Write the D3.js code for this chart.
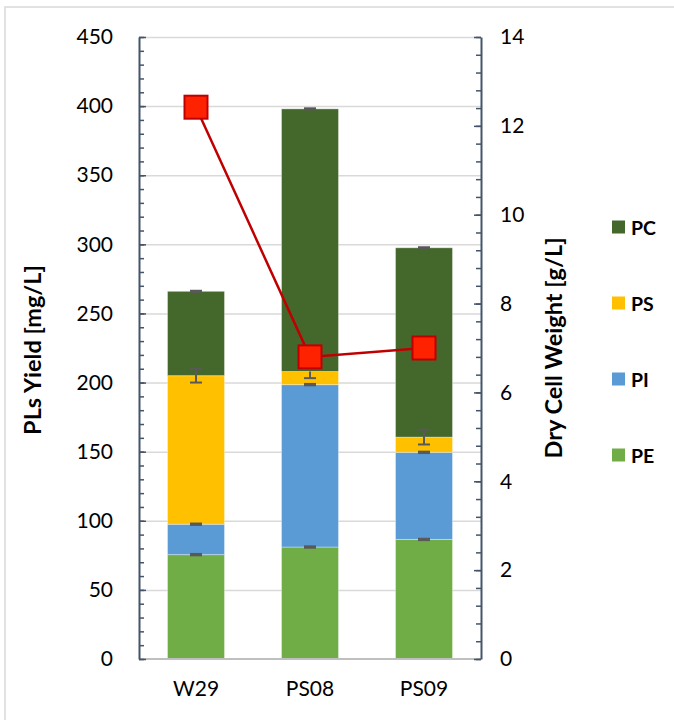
<!DOCTYPE html>
<html><head><meta charset="utf-8">
<script src="https://cdn.jsdelivr.net/npm/d3@7"></script>
<style>
html,body{margin:0;padding:0;background:#fff;}
svg{display:block;font-family:Lato,"Open Sans",sans-serif;}
</style></head>
<body>
<svg id="chart" width="674" height="720"></svg>
<script>
// ---- data ----
const categories = ["W29", "PS08", "PS09"];
const seriesNames = ["PE", "PI", "PS", "PC"];
const PE = [75.5, 81, 86.5];
const PI = [22, 117.5, 63];
const PS = [107.5, 9.5, 11];
const PC = [61, 190, 137];
// error bars (per series, per category)
const errPlusPE = [0.5, 0.5, 0.5],  errMinusPE = [0.5, 0.5, 0.5];
const errPlusPI = [0.5, 0.5, 0.5],  errMinusPI = [0.5, 0.5, 0.5];
const errPlusPS = [5, 0, 5.3],      errMinusPS = [5, 4.8, 5.3];
const errPlusPC = [0.4, 0.4, 0.4],  errMinusPC = [0.4, 0.4, 0.4];
const dryCellWeight = [12.42, 6.8, 7.0];
const leftTicks = [0, 50, 100, 150, 200, 250, 300, 350, 400, 450];
const rightTicks = [0, 2, 4, 6, 8, 10, 12, 14];

const colors = {PE: "#70AD47", PI: "#5B9BD5", PS: "#FFC000", PC: "#44682C"};
const seriesValues = {PE, PI, PS, PC};
const errPlus = {PE: errPlusPE, PI: errPlusPI, PS: errPlusPS, PC: errPlusPC};
const errMinus = {PE: errMinusPE, PI: errMinusPI, PS: errMinusPS, PC: errMinusPC};

// ---- layout ----
const svg = d3.select("#chart");
const X0 = 139, X1 = 481, Y0 = 659, Y1 = 37;
const axisColor = "#44546A";

// outer border
svg.append("rect").attr("x", 5).attr("y", 7).attr("width", 700).attr("height", 740)
  .attr("fill", "none").attr("stroke", "#D9D9D9").attr("stroke-width", 1.5);

const x = d3.scaleBand().domain(categories).range([X0, X1]).paddingInner(0.5).paddingOuter(0.25);
const y = d3.scaleLinear().domain([0, 450]).range([Y0, Y1]);
const y2 = d3.scaleLinear().domain([0, 14]).range([Y0, Y1]);

// gridlines
svg.append("g").attr("transform", `translate(${X0},0)`)
  .call(d3.axisLeft(y).tickValues(leftTicks.slice(1)).tickSize(-(X1 - X0)).tickFormat(""))
  .call(g => g.select(".domain").remove())
  .call(g => g.selectAll("line").attr("stroke", "#D9D9D9").attr("stroke-width", 1.5));

// stacked data
const table = categories.map((c, i) => {
  const o = {cat: c};
  seriesNames.forEach(s => o[s] = seriesValues[s][i]);
  return o;
});
const stacked = d3.stack().keys(seriesNames)(table);

svg.append("g").selectAll("g").data(stacked).join("g")
  .attr("fill", d => colors[d.key])
  .selectAll("rect").data(d => d).join("rect")
  .attr("x", d => x(d.data.cat))
  .attr("width", x.bandwidth())
  .attr("y", d => y(d[1]))
  .attr("height", d => y(d[0]) - y(d[1]))
  .attr("stroke", "rgba(255,255,255,0.35)").attr("stroke-width", 1);

// error bars
const eb = svg.append("g").attr("stroke", "#595959").attr("stroke-width", 2);
stacked.forEach(layer => {
  const s = layer.key;
  layer.forEach((d, i) => {
    const cx = x(d.data.cat) + x.bandwidth() / 2;
    const top = d[1];
    const hi = top + errPlus[s][i], lo = top - errMinus[s][i];
    eb.append("line").attr("x1", cx).attr("x2", cx).attr("y1", y(hi)).attr("y2", y(lo));
    if (errPlus[s][i] > 0) eb.append("line").attr("x1", cx - 6).attr("x2", cx + 6).attr("y1", y(hi)).attr("y2", y(hi));
    if (errMinus[s][i] > 0) eb.append("line").attr("x1", cx - 6).attr("x2", cx + 6).attr("y1", y(lo)).attr("y2", y(lo));
  });
});

// bottom axis line
svg.append("line").attr("x1", X0).attr("x2", X1).attr("y1", Y0).attr("y2", Y0)
  .attr("stroke", "#BFBFBF").attr("stroke-width", 2);

// left axis: minor ticks
svg.append("g").attr("transform", `translate(${X0},0)`)
  .call(d3.axisLeft(y).tickValues(d3.range(0, 451, 10)).tickSize(-5).tickFormat(""))
  .call(g => g.select(".domain").remove())
  .call(g => g.selectAll("line").attr("stroke", axisColor).attr("stroke-width", 1.5));
// left axis: major
svg.append("g").attr("transform", `translate(${X0},0)`)
  .call(d3.axisLeft(y).tickValues(leftTicks).tickSize(-7).tickPadding(26).tickSizeOuter(0))
  .call(g => g.select(".domain").attr("stroke", axisColor).attr("stroke-width", 2))
  .call(g => g.selectAll("line").attr("stroke", axisColor).attr("stroke-width", 1.5))
  .call(g => g.selectAll("text").attr("font-size", 21).attr("fill", "#000").attr("font-family", "Lato"));

// right axis: minor ticks
svg.append("g").attr("transform", `translate(${X1},0)`)
  .call(d3.axisRight(y2).tickValues(d3.range(0, 14.01, 0.4)).tickSize(-5).tickFormat(""))
  .call(g => g.select(".domain").remove())
  .call(g => g.selectAll("line").attr("stroke", axisColor).attr("stroke-width", 1.5));
// right axis: major
svg.append("g").attr("transform", `translate(${X1},0)`)
  .call(d3.axisRight(y2).tickValues(rightTicks).tickSize(-7).tickPadding(19).tickSizeOuter(0))
  .call(g => g.select(".domain").attr("stroke", axisColor).attr("stroke-width", 2))
  .call(g => g.selectAll("line").attr("stroke", axisColor).attr("stroke-width", 1.5))
  .call(g => g.selectAll("text").attr("font-size", 21).attr("fill", "#000").attr("font-family", "Lato"));

// category axis labels
svg.append("g").attr("transform", `translate(0,${Y0})`)
  .call(d3.axisBottom(x).tickSize(0).tickPadding(22))
  .call(g => g.select(".domain").remove())
  .call(g => g.selectAll("text").attr("font-size", 21).attr("fill", "#000").attr("font-family", "Lato"));

// dry cell weight line
const line = d3.line().x((d, i) => x(categories[i]) + x.bandwidth() / 2).y(d => y2(d));
svg.append("path").datum(dryCellWeight).attr("d", line)
  .attr("fill", "none").attr("stroke", "#C00000").attr("stroke-width", 2.5);
svg.append("g").selectAll("rect").data(dryCellWeight).join("rect")
  .attr("x", (d, i) => x(categories[i]) + x.bandwidth() / 2 - 11.5)
  .attr("y", d => y2(d) - 11.5)
  .attr("width", 23).attr("height", 23)
  .attr("fill", "#FF2200").attr("stroke", "#C00000").attr("stroke-width", 2);

// axis titles
svg.append("text").attr("transform", "translate(32,350) rotate(-90)")
  .attr("text-anchor", "middle").attr("dominant-baseline", "central")
  .attr("font-size", 23.5).attr("font-weight", "bold").attr("fill", "#000")
  .text("PLs Yield [mg/L]");
svg.append("text").attr("transform", "translate(553,348) rotate(-90)")
  .attr("text-anchor", "middle").attr("dominant-baseline", "central")
  .attr("font-size", 23.5).attr("font-weight", "bold").attr("fill", "#000")
  .text("Dry Cell Weight [g/L]");

// legend
const legendItems = seriesNames.slice().reverse();
const lg = svg.append("g").selectAll("g").data(legendItems).join("g")
  .attr("transform", (d, i) => `translate(612,${227 + i * 76})`);
lg.append("rect").attr("x", 0).attr("y", -6.5).attr("width", 13).attr("height", 13)
  .attr("fill", d => colors[d]);
lg.append("text").attr("x", 19).attr("y", 0).attr("dominant-baseline", "central")
  .attr("font-size", 19.5).attr("font-weight", "bold").attr("fill", "#000").text(d => d);
</script>
</body></html>
